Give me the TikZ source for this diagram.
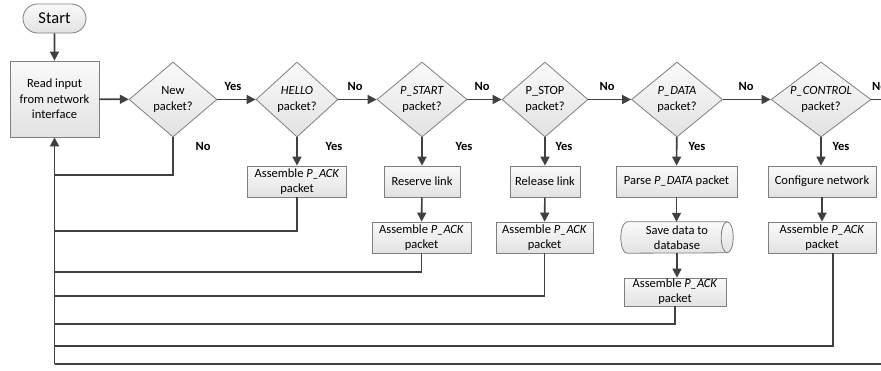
\documentclass[tikz,border=0pt]{standalone}
\usepackage{fontspec}
\setmainfont{Carlito}
\usetikzlibrary{arrows.meta,shapes.geometric,shapes.misc,backgrounds}
\definecolor{linec}{HTML}{404040}
\definecolor{bordc}{HTML}{7F7F7F}
\definecolor{filltop}{HTML}{FAFAFA}
\definecolor{fillbot}{HTML}{E2E2E2}
\tikzset{
  base/.style={font=\fontsize{12.5}{15.3}\selectfont, align=center, inner sep=0pt},
  boxed/.style={base, draw=bordc, line width=0.8pt, top color=filltop, bottom color=fillbot},
  procbox/.style={boxed, rectangle, minimum height=31pt},
  dia/.style={boxed, diamond, minimum width=#1, minimum height=75pt},
  txt/.style={base},
  lab/.style={font=\bfseries\fontsize{12.5}{15}\selectfont, inner sep=0pt},
  conn/.style={draw=linec, line width=1.6pt},
  arr/.style={conn, -{Triangle[length=9pt,width=9pt]}},
}
\begin{document}
\begin{tikzpicture}[x=1pt,y=1pt]
\useasboundingbox (0,0) rectangle (881,-370);

% start and first box
\node[boxed, rounded rectangle, minimum width=63pt, minimum height=29pt, font=\fontsize{16.5}{19}\selectfont] (start) at (54.5,-18.5) {Start};
\node[boxed, rectangle, minimum width=89pt, minimum height=76pt] (read) at (54.5,-99) {Read input\\from network\\interface};

% diamonds
\node[dia=88pt] (d1) at (173,-99.5) {};
\node[txt] (d1t) at (d1) {New\\packet?};
\node[dia=82pt] (d2) at (297,-99.5) {};
\node[txt] (d2t) at (d2) {\textit{HELLO}\\packet?};
\node[dia=90pt] (d3) at (422,-99.5) {};
\node[txt] (d3t) at (d3) {\textit{P\_START}\\packet?};
\node[dia=86pt] (d4) at (545,-99.5) {};
\node[txt] (d4t) at (d4) {P\_STOP\\packet?};
\node[dia=91pt] (d5) at (677,-99.5) {};
\node[txt] (d5t) at (d5) {\textit{P\_DATA}\\packet?};
\node[dia=100pt] (d6) at (821,-99.5) {};
\node[txt] (d6t) at (d6) {\textit{P\_CONTROL}\\packet?};

% first row boxes
\node[procbox, minimum width=99pt] (b2) at (297,-181.5) {Assemble \textit{P\_ACK}\\packet};
\node[procbox, minimum width=76pt] (b3) at (422,-181.5) {Reserve link};
\node[procbox, minimum width=70pt] (b4) at (545,-181.5) {Release link};
\node[procbox, minimum width=121pt] (b5) at (676.5,-181.5) {Parse \textit{P\_DATA} packet};
\node[procbox, minimum width=108pt] (b6) at (822,-181.5) {Configure network};

% second row
\node[procbox, minimum width=99pt] (a3) at (421.5,-237.5) {Assemble \textit{P\_ACK}\\packet};
\node[procbox, minimum width=97pt] (a4) at (544.5,-237.5) {Assemble \textit{P\_ACK}\\packet};
\node[txt, minimum width=112pt, minimum height=31pt] (cyl) at (677,-237.5) {Save data to\\database};
\node[procbox, minimum width=108pt] (a6) at (822,-237.5) {Assemble \textit{P\_ACK}\\packet};
\node[procbox, minimum width=102pt, minimum height=28pt] (a5) at (675,-292) {Assemble \textit{P\_ACK}\\packet};

\begin{scope}[on background layer]
\fill[white] (0,0) rectangle (881,-370);
\draw[draw=bordc, line width=0.8pt, top color=filltop, bottom color=fillbot]
  ([xshift=6pt]cyl.north west) -- ([xshift=-6pt]cyl.north east)
  arc[start angle=90, end angle=-90, x radius=6pt, y radius=15.5pt]
  -- ([xshift=6pt]cyl.south west)
  arc[start angle=270, end angle=90, x radius=6pt, y radius=15.5pt] -- cycle;
\draw[draw=bordc, line width=0.8pt] ([xshift=-6pt]cyl.north east)
  arc[start angle=90, end angle=270, x radius=6pt, y radius=15.5pt];
\end{scope}

% junction coordinates on the left return line
\coordinate (j0) at (54.5,-175);
\coordinate (j2) at (54.5,-231);
\coordinate (j3) at (54.5,-272);
\coordinate (j4) at (54.5,-296);
\coordinate (j5) at (54.5,-324);
\coordinate (j6) at (54.5,-346);
\coordinate (jb) at (54.5,-364);
\coordinate (re) at (881,-99.5);
\coordinate (rb) at (881,-364);

% main flow
\draw[arr] (start) -- (read);
\draw[arr] (read) -- (d1);
\draw[arr] (d1) -- (d2);
\draw[arr] (d2) -- (d3);
\draw[arr] (d3) -- (d4);
\draw[arr] (d4) -- (d5);
\draw[arr] (d5) -- (d6);
\draw[conn] (d6) -- (re);

\draw[arr] (d2) -- (b2);
\draw[arr] (d3) -- (b3);
\draw[arr] (d4) -- (b4);
\draw[arr] (d5) -- (b5);
\draw[arr] (d6.south) -- (b6.north -| d6.south);
\draw[arr] (b3) -- (a3);
\draw[arr] (b4) -- (a4);
\draw[arr] (b5.south) -- (cyl.north -| b5.south);
\draw[arr] (cyl.south) -- (a5.north -| cyl.south);
\draw[arr] (b6) -- (a6);

% returns
\draw[conn] (d1.south) |- (j0);
\draw[conn] (b2.south) |- (j2);
\draw[conn] (a3.south) |- (j3);
\draw[conn] (a4.south) |- (j4);
\draw[conn] (a5.south) |- (j5);
\draw[conn] ([xshift=11pt]a6.south) |- (j6);
\draw[conn] (rb) -- (jb);
\draw[arr] (jb) -- (read.south);

% labels
\node[lab] (l1) at (233,-86) {Yes};
\node[lab] (l2) at (203,-146) {No};
\node[lab] (l3) at (355,-86) {No};
\node[lab] (l4) at (482,-86) {No};
\node[lab] (l5) at (607,-86) {No};
\node[lab] (l6) at (746,-86) {No};
\node[lab, anchor=west] (l7) at (872,-86) {No};
\node[lab] (y2) at (334,-146) {Yes};
\node[lab] (y3) at (464,-146) {Yes};
\node[lab] (y4) at (564,-146) {Yes};
\node[lab] (y5) at (697,-146) {Yes};
\node[lab] (y6) at (841,-146) {Yes};
\end{tikzpicture}
\end{document}
